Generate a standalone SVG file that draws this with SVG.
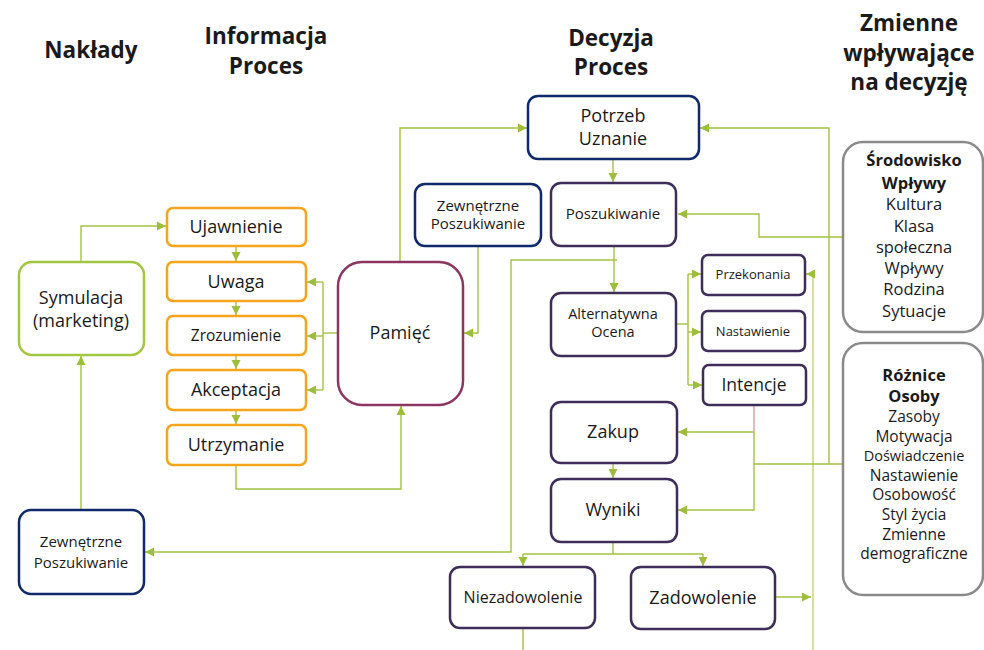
<svg xmlns="http://www.w3.org/2000/svg" width="984" height="650" viewBox="0 0 984 650">
  <defs>
    <marker id="arr" markerWidth="10" markerHeight="10" refX="9" refY="5" orient="auto" markerUnits="userSpaceOnUse">
      <path d="M0,0.5 L9,5 L0,9.5 Z" fill="#9DBE3A"/>
    </marker>
    <style>
      text { font-family: "Open Sans", "Noto Sans", "Liberation Sans", sans-serif; fill: #1a1a1a; text-anchor: middle; }
      .hdr { font-size: 22.5px; font-weight: bold; }
      .orange { fill: #fff; stroke: #F4A51C; stroke-width: 2.5; }
      .navy { fill: #fff; stroke: #10296A; stroke-width: 2.5; }
      .purple { fill: #fff; stroke: #3D2D58; stroke-width: 2.5; }
      .maroon { fill: #fff; stroke: #8C3560; stroke-width: 2.5; }
      .lime { fill: #fff; stroke: #A2C640; stroke-width: 2.5; }
      .gray { fill: #fff; stroke: #8A8A8A; stroke-width: 2.5; }
      .c { fill: none; stroke: #A2C23F; stroke-width: 1.4; }
      .pale { fill: none; stroke: #D3E19C; stroke-width: 2; }
      .red { fill: none; stroke: #D88A8A; stroke-width: 1.2; }
      .big { font-size: 18px; }
      .mid { font-size: 15px; }
      .sm { font-size: 13px; }
      .side { font-size: 16.5px; }
      .side2 { font-size: 15.5px; }
      .b { font-weight: bold; }
    </style>
  </defs>

  <!-- column headers -->
  <g id="headers">
    <text class="hdr" x="91" y="58">Nakłady</text>
    <text class="hdr" x="266" y="44">Informacja</text>
    <text class="hdr" x="266" y="74">Proces</text>
    <text class="hdr" x="611" y="46">Decyzja</text>
    <text class="hdr" x="611" y="75">Proces</text>
    <text class="hdr" x="909" y="31">Zmienne</text>
    <text class="hdr" x="909" y="61">wpływające</text>
    <text class="hdr" x="909" y="90">na decyzję</text>
  </g>

  <!-- connectors -->
  <g id="connectors">
    <!-- stimulation to exposure -->
    <path class="c" d="M81,262 V226 H166" marker-end="url(#arr)"/>
    <!-- external search (left) up to stimulation -->
    <path class="c" d="M81,510 V356" marker-end="url(#arr)"/>
    <!-- information process chain -->
    <path class="c" d="M236,246 V261" marker-end="url(#arr)"/>
    <path class="c" d="M236,301 V315" marker-end="url(#arr)"/>
    <path class="c" d="M236,355 V369" marker-end="url(#arr)"/>
    <path class="c" d="M236,410 V424" marker-end="url(#arr)"/>
    <!-- retention to memory -->
    <path class="c" d="M236,465 V489 H401 V406" marker-end="url(#arr)"/>
    <!-- memory to attention/comprehension/acceptance -->
    <path class="c" d="M338,333 H323"/>
    <path class="c" d="M323,282 V390"/>
    <path class="c" d="M323,282 H307" marker-end="url(#arr)"/>
    <path class="c" d="M323,336 H307" marker-end="url(#arr)"/>
    <path class="c" d="M323,390 H307" marker-end="url(#arr)"/>
    <!-- memory to need recognition -->
    <path class="c" d="M400,262 V128 H527" marker-end="url(#arr)"/>
    <!-- external search (middle) to memory -->
    <path class="c" d="M478,246 V333 H464" marker-end="url(#arr)"/>
    <!-- decision chain -->
    <path class="c" d="M613,159 V182" marker-end="url(#arr)"/>
    <path class="c" d="M614,246 V292" marker-end="url(#arr)"/>
    <!-- search branch to external search (left) -->
    <path class="c" d="M617,260 H511 V552 H145" marker-end="url(#arr)"/>
    <!-- evaluation to beliefs / attitudes / intentions -->
    <path class="c" d="M676,324 H688"/>
    <path class="c" d="M688,274 V385"/>
    <path class="c" d="M688,274 H701" marker-end="url(#arr)"/>
    <path class="c" d="M688,332 H701" marker-end="url(#arr)"/>
    <path class="c" d="M688,385 H702" marker-end="url(#arr)"/>
    <!-- intention to purchase -->
    <path class="red" d="M754,405 V432"/>
    <path class="c" d="M754,432 H678" marker-end="url(#arr)"/>
    <path class="c" d="M754,432 V510 H678" marker-end="url(#arr)"/>
    <!-- purchase to outcomes -->
    <path class="c" d="M613,463 V478" marker-end="url(#arr)"/>
    <!-- outcomes split -->
    <path class="c" d="M613,542 V554"/>
    <path class="c" d="M523,554 H703"/>
    <path class="c" d="M523,554 V566" marker-end="url(#arr)"/>
    <path class="c" d="M703,554 V566" marker-end="url(#arr)"/>
    <path class="c" d="M523,628 V650"/>
    <!-- satisfaction feedback to beliefs -->
    <path class="c" d="M775,597 H811" marker-end="url(#arr)"/>
    <path class="pale" d="M813,650 V274"/>
    <path class="c" d="M813,274 H806" marker-end="url(#arr)"/>
    <!-- environmental influences to search -->
    <path class="c" d="M843,237 H759 V214 H678" marker-end="url(#arr)"/>
    <!-- individual differences to need recognition, purchase, outcomes -->
    <path class="c" d="M843,464 H754"/>
    <path class="c" d="M829,464 V128 H700" marker-end="url(#arr)"/>
  </g>

  <!-- inputs -->
  <g id="symulacja">
    <rect class="lime" x="19" y="262" width="125" height="93" rx="13"/>
    <text class="big" x="81" y="304">Symulacja</text>
    <text class="big" x="81" y="327">(marketing)</text>
  </g>
  <g id="zewnetrzne-lewe">
    <rect class="navy" x="19" y="510" width="125" height="84" rx="12"/>
    <text class="mid" x="81" y="547">Zewnętrzne</text>
    <text class="mid" x="81" y="568">Poszukiwanie</text>
  </g>

  <!-- information process -->
  <g id="ujawnienie">
    <rect class="orange" x="167" y="208" width="139" height="38" rx="6"/>
    <text class="big" x="236" y="233">Ujawnienie</text>
  </g>
  <g id="uwaga">
    <rect class="orange" x="167" y="262" width="139" height="39" rx="6"/>
    <text class="big" x="236" y="288">Uwaga</text>
  </g>
  <g id="zrozumienie">
    <rect class="orange" x="167" y="316" width="139" height="39" rx="6"/>
    <text font-size="15.5" x="236" y="341">Zrozumienie</text>
  </g>
  <g id="akceptacja">
    <rect class="orange" x="167" y="370" width="139" height="40" rx="6"/>
    <text class="big" x="236" y="396">Akceptacja</text>
  </g>
  <g id="utrzymanie">
    <rect class="orange" x="167" y="425" width="139" height="40" rx="6"/>
    <text class="big" x="236" y="451">Utrzymanie</text>
  </g>
  <g id="pamiec">
    <rect class="maroon" x="338" y="262" width="125" height="143" rx="24"/>
    <text class="big" x="400" y="339">Pamięć</text>
  </g>
  <g id="zewnetrzne-srodek">
    <rect class="navy" x="415" y="184" width="126" height="62" rx="10"/>
    <text class="mid" x="478" y="211">Zewnętrzne</text>
    <text class="mid" x="478" y="229">Poszukiwanie</text>
  </g>

  <!-- decision process -->
  <g id="potrzeb">
    <rect class="navy" x="528" y="96" width="171" height="63" rx="10"/>
    <text class="big" x="613" y="122">Potrzeb</text>
    <text class="big" x="613" y="145">Uznanie</text>
  </g>
  <g id="poszukiwanie">
    <rect class="purple" x="551" y="183" width="125" height="63" rx="10"/>
    <text class="mid" x="613" y="219">Poszukiwanie</text>
  </g>
  <g id="alternatywna">
    <rect class="purple" x="551" y="293" width="125" height="63" rx="10"/>
    <text font-size="14.5" x="613" y="319">Alternatywna</text>
    <text font-size="14.5" x="613" y="337">Ocena</text>
  </g>
  <g id="przekonania">
    <rect class="purple" x="702" y="255" width="103" height="40" rx="6"/>
    <text class="sm" x="753" y="279">Przekonania</text>
  </g>
  <g id="nastawienie">
    <rect class="purple" x="702" y="311" width="103" height="40" rx="6"/>
    <text class="sm" x="753" y="336">Nastawienie</text>
  </g>
  <g id="intencje">
    <rect class="purple" x="703" y="365" width="103" height="40" rx="6"/>
    <text font-size="17.5" x="754" y="391">Intencje</text>
  </g>
  <g id="zakup">
    <rect class="purple" x="551" y="402" width="126" height="61" rx="10"/>
    <text class="big" x="613" y="438">Zakup</text>
  </g>
  <g id="wyniki">
    <rect class="purple" x="551" y="479" width="126" height="63" rx="10"/>
    <text class="big" x="613" y="516">Wyniki</text>
  </g>
  <g id="niezadowolenie">
    <rect class="purple" x="450" y="567" width="145" height="61" rx="10"/>
    <text font-size="16" x="523" y="603">Niezadowolenie</text>
  </g>
  <g id="zadowolenie">
    <rect class="purple" x="631" y="567" width="144" height="62" rx="10"/>
    <text class="big" x="703" y="604">Zadowolenie</text>
  </g>

  <!-- variables influencing the decision -->
  <g id="srodowisko">
    <rect class="gray" x="843" y="142" width="140" height="190" rx="20"/>
    <text class="side b" x="914" y="166">Środowisko</text>
    <text class="side b" x="914" y="189">Wpływy</text>
    <text class="side" x="914" y="210">Kultura</text>
    <text class="side" x="914" y="232">Klasa</text>
    <text class="side" x="914" y="253">społeczna</text>
    <text class="side" x="914" y="274">Wpływy</text>
    <text class="side" x="914" y="295">Rodzina</text>
    <text class="side" x="914" y="317">Sytuacje</text>
  </g>
  <g id="roznice">
    <rect class="gray" x="843" y="343" width="140" height="252" rx="20"/>
    <text class="side b" x="914" y="381">Różnice</text>
    <text class="side b" x="914" y="402">Osoby</text>
    <text class="side2" x="914" y="422">Zasoby</text>
    <text class="side2" x="914" y="442">Motywacja</text>
    <text font-size="14.5" x="914" y="461">Doświadczenie</text>
    <text class="side2" x="914" y="481">Nastawienie</text>
    <text class="side2" x="914" y="500">Osobowość</text>
    <text class="side2" x="914" y="520">Styl życia</text>
    <text class="side2" x="914" y="540">Zmienne</text>
    <text class="side2" x="914" y="559">demograficzne</text>
  </g>
</svg>
